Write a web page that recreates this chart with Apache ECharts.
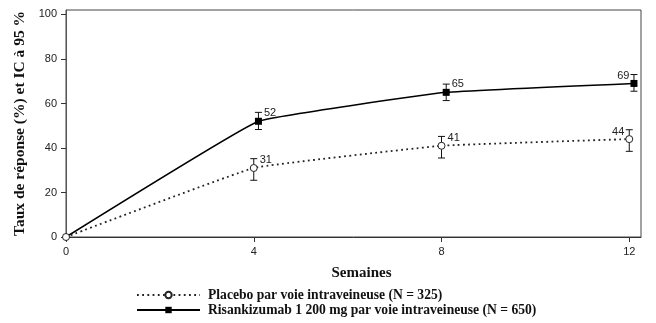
<!DOCTYPE html>
<html>
<head>
<meta charset="utf-8">
<script src="https://cdn.jsdelivr.net/npm/echarts@6/dist/echarts.min.js"></script>
<style>
html,body{margin:0;padding:0;background:#fff;}
#chart{width:656px;height:323px;}
</style>
</head>
<body>
<div id="chart"></div>
<script>
// ---- data ----
const weeks = [0, 4, 8, 12];
const xTicks = [0, 4, 8, 12];
const yTicks = [0, 20, 40, 60, 80, 100];
const placeboName = 'Placebo par voie intraveineuse (N = 325)';
const risName = 'Risankizumab 1 200 mg par voie intraveineuse (N = 650)';
const placeboRate = [0, 31, 41, 44];
const placeboLow = [null, 25.5, 35.5, 38.5];
const placeboHigh = [null, 35.2, 45.2, 48.2];
const risRate = [0, 52, 65, 69];
const risLow = [null, 48.3, 61.3, 65.5];
const risHigh = [null, 56, 68.7, 73];
const risDodge = [0, 0.1, 0.1, 0.1];   // horizontal offset of the risankizumab group (weeks)

// ---- build ----
const labelFont = {fontFamily: 'Liberation Sans, Arial, sans-serif', fontSize: 11, color: '#222'};
function pointItems(xs, ys, dodge, hideFirst) {
  return xs.map((x, i) => {
    const item = {value: [x + dodge[i], ys[i]]};
    if (i === 0) {
      item.label = {show: false};
      if (hideFirst) item.symbol = 'none';
    } else if (i === xs.length - 1) {
      item.label = Object.assign({show: true, position: 'left', distance: 1, offset: [0, -7]}, labelFont);
    } else {
      item.label = Object.assign({show: true, position: 'right', distance: 2, offset: [0, -8]}, labelFont);
    }
    return item;
  });
}
function ciItems(xs, lo, hi, dodge) {
  const out = [];
  xs.forEach((x, i) => { if (lo[i] != null) out.push([x + dodge[i], lo[i], hi[i]]); });
  return out;
}
const zero = weeks.map(() => 0);

function errorBar(params, api) {
  const x = api.value(0);
  const p1 = api.coord([x, api.value(1)]);
  const p2 = api.coord([x, api.value(2)]);
  const w = 3.5;
  const st = {stroke: '#111', lineWidth: 1};
  return {
    type: 'group',
    children: [
      {type: 'line', shape: {x1: p1[0], y1: p1[1], x2: p2[0], y2: p2[1]}, style: st},
      {type: 'line', shape: {x1: p1[0] - w, y1: p1[1], x2: p1[0] + w, y2: p1[1]}, style: st},
      {type: 'line', shape: {x1: p2[0] - w, y1: p2[1], x2: p2[0] + w, y2: p2[1]}, style: st}
    ]
  };
}

const chart = echarts.init(document.getElementById('chart'), null, {renderer: 'canvas'});
chart.setOption({
  animation: false,
  backgroundColor: '#fff',
  grid: {left: 66, right: 15, top: 10, bottom: 86, show: true, borderColor: '#444', borderWidth: 1, backgroundColor: 'transparent'},
  xAxis: {
    type: 'value', min: 0, max: 12.25,
    name: 'Semaines', nameLocation: 'middle', nameGap: 29,
    nameTextStyle: {fontFamily: 'Liberation Serif, Times New Roman, serif', fontWeight: 'bold', fontSize: 15, color: '#111', padding: [0, 0, 0, 16]},
    axisLine: {show: true, lineStyle: {color: '#333', width: 1}},
    axisTick: {show: true, length: 5, customValues: xTicks, lineStyle: {color: '#333'}},
    axisLabel: {customValues: xTicks, margin: 9, fontFamily: 'Liberation Sans, Arial, sans-serif', fontSize: 11, color: '#222'},
    splitLine: {show: false}
  },
  yAxis: {
    type: 'value', min: 0, max: 102,
    name: 'Taux de réponse (%) et IC à 95 %', nameLocation: 'middle', nameGap: 35,
    nameTextStyle: {fontFamily: 'Liberation Serif, Times New Roman, serif', fontWeight: 'bold', fontSize: 15.5, color: '#111'},
    axisLine: {show: true, lineStyle: {color: '#555', width: 1}},
    axisTick: {show: true, length: 5, customValues: yTicks, lineStyle: {color: '#333'}},
    axisLabel: {customValues: yTicks, margin: 9, fontFamily: 'Liberation Sans, Arial, sans-serif', fontSize: 11, color: '#222'},
    splitLine: {show: false}
  },
  legend: {
    orient: 'vertical', left: 136, top: 288, padding: 0, itemGap: 1, itemWidth: 63, itemHeight: 8,
    textStyle: {fontFamily: 'Liberation Serif, Times New Roman, serif', fontWeight: 'bold', fontSize: 13.6, color: '#111', padding: [0, 0, 0, 3]},
    data: [placeboName, risName]
  },
  series: [
    {
      name: risName, type: 'line', smooth: 0.08,
      data: pointItems(weeks, risRate, risDodge, true),
      symbol: 'rect', symbolSize: 7, showAllSymbol: true,
      itemStyle: {color: '#000', borderColor: '#000', borderWidth: 0},
      lineStyle: {color: '#000', width: 1.5, type: 'solid'},
      z: 3
    },
    {
      name: placeboName, type: 'line', smooth: 0.08,
      data: pointItems(weeks, placeboRate, zero, false),
      symbol: 'circle', symbolSize: 7, showAllSymbol: true,
      itemStyle: {color: '#fff', borderColor: '#222', borderWidth: 1},
      lineStyle: {color: '#222', width: 1.8, type: [1.8, 3.4]},
      z: 4
    },
    {
      name: 'ci-placebo', type: 'custom', renderItem: errorBar,
      data: ciItems(weeks, placeboLow, placeboHigh, zero),
      encode: {x: 0, y: [1, 2]}, z: 2, silent: true
    },
    {
      name: 'ci-ris', type: 'custom', renderItem: errorBar,
      data: ciItems(weeks, risLow, risHigh, risDodge),
      encode: {x: 0, y: [1, 2]}, z: 2, silent: true
    }
  ]
});
</script>
</body>
</html>
